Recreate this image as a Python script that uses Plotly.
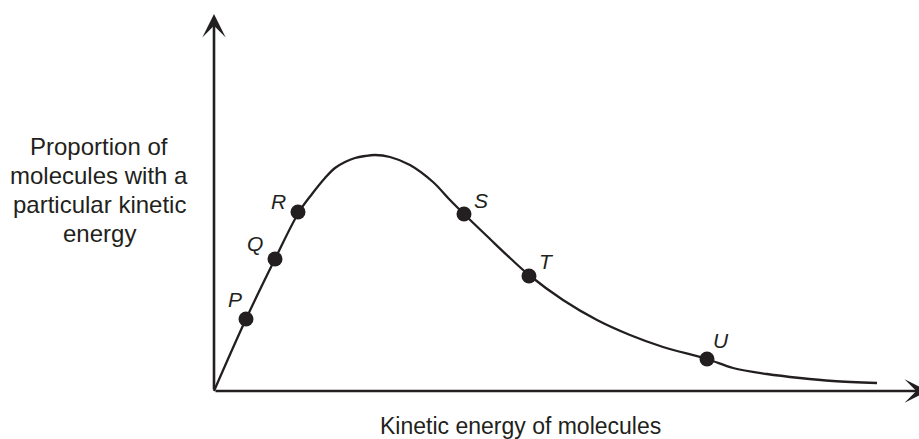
import plotly.graph_objects as go

# Curve (x = kinetic energy, y = proportion), in chart units
curve_x = [0, 32, 61, 85, 98, 111, 121, 131, 141, 151, 161, 176, 196, 219, 236, 250, 276, 296, 315, 349, 383, 416, 449, 493, 519, 553, 586, 619, 663]
curve_y = [0, 72, 132, 179, 197, 213, 223, 229, 233, 235, 236, 234, 226, 209, 191, 177, 152, 133, 116, 91, 71, 56, 44, 32, 23, 17, 13, 10, 8]

point_labels = ["P", "Q", "R", "S", "T", "U"]
point_x = [32, 61, 84, 250, 315, 493]
point_y = [72, 132, 179, 177, 115, 32]
label_x = [21, 41, 64, 267, 332, 507]
label_y = [92, 148, 190, 191, 130, 51]

y_title_lines = ["Proportion of", "molecules with a", "particular kinetic", "energy"]
x_title = "Kinetic energy of molecules"

INK = "#231f20"
FONT = "Liberation Sans, Arial, sans-serif"

fig = go.Figure()
fig.add_trace(go.Scatter(x=curve_x, y=curve_y, mode="lines",
                         line=dict(color=INK, width=2.3, shape="spline", smoothing=1.0),
                         hoverinfo="skip", showlegend=False))
fig.add_trace(go.Scatter(x=point_x, y=point_y, mode="markers",
                         marker=dict(color=INK, size=15),
                         hoverinfo="skip", showlegend=False))

anns = []
# axes with arrowheads
anns.append(dict(x=0, y=377, ax=0, ay=0, xref="x", yref="y", axref="x", ayref="y",
                 text="", showarrow=True, arrowhead=3, arrowsize=1.5, arrowwidth=2.6,
                 arrowcolor=INK))
anns.append(dict(x=714, y=0, ax=0, ay=0, xref="x", yref="y", axref="x", ayref="y",
                 text="", showarrow=True, arrowhead=3, arrowsize=1.5, arrowwidth=2.6,
                 arrowcolor=INK))
for t, lx, ly in zip(point_labels, label_x, label_y):
    anns.append(dict(x=lx, y=ly, xref="x", yref="y", text="<i>" + t + "</i>",
                     showarrow=False, font=dict(family=FONT, size=21, color=INK),
                     xanchor="center", yanchor="middle"))
for i, line in enumerate(y_title_lines):
    anns.append(dict(x=-115, y=245 - 29 * i, xref="x", yref="y", text=line,
                     showarrow=False, font=dict(family=FONT, size=24, color=INK),
                     xanchor="center", yanchor="middle"))
anns.append(dict(x=306, y=-35, xref="x", yref="y", text=x_title, showarrow=False,
                 font=dict(family=FONT, size=23, color=INK),
                 xanchor="center", yanchor="middle"))

fig.update_layout(
    width=930, height=439,
    margin=dict(l=0, r=0, t=0, b=0),
    paper_bgcolor="white", plot_bgcolor="white",
    xaxis=dict(range=[-214, 716], visible=False, fixedrange=True),
    yaxis=dict(range=[-48, 391], visible=False, fixedrange=True),
    annotations=anns,
    showlegend=False,
)
fig.write_html("out.html", config={"displayModeBar": False},
               post_script="document.body.style.margin='0';document.body.style.overflow='hidden';")
